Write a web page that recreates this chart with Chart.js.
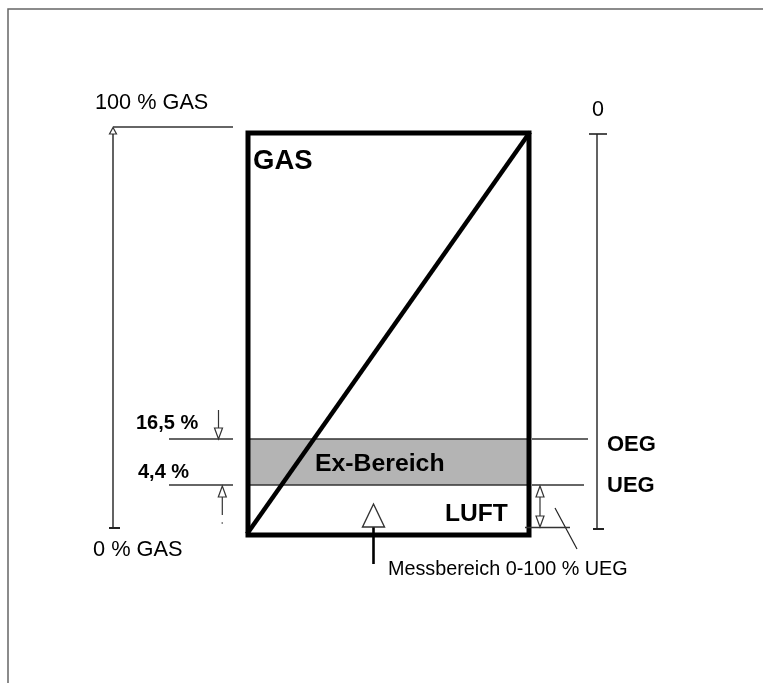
<!DOCTYPE html>
<html><head><meta charset="utf-8">
<script src="https://cdn.jsdelivr.net/npm/chart.js@4.4.1/dist/chart.umd.min.js"></script>
<style>html,body{margin:0;padding:0;background:#fff;}canvas{display:block;}</style>
</head><body>
<canvas id="c" width="763" height="683"></canvas>
<script>
// Diagram coordinate system: x to the right, y downward (drawing units)
const zoneLabels = ['GAS', 'Ex-Bereich', 'LUFT'];
const gasScaleLabels = ['100 % GAS', '0 % GAS'];
const limitPercents = ['16,5 %', '4,4 %'];
const limitNames = ['OEG', 'UEG'];
const uegScaleTopLabel = '0';
const rangeLabel = 'Messbereich 0-100 % UEG';

const vesselX = [248, 529];      // left / right wall of the vessel
const vesselY = [133, 535];      // top (100 % gas) / bottom (0 % gas)
const limitY = [439, 485];       // OEG (16,5 %) / UEG (4,4 %) levels
const gasScaleX = 113;           // left dimension line
const uegScaleX = 597;           // right dimension line
const uegScaleY = [134, 529];
const measureArrowX = 373.5;

const BLACK = '#000';
const DARK = '#333';

function line(pts, width, color, extra) {
  return Object.assign({
    data: pts.map(p => ({x: p[0], y: p[1]})),
    showLine: true, borderColor: color, borderWidth: width,
    pointRadius: 0, fill: false, borderCapStyle: 'butt', borderJoinStyle: 'miter', order: 0
  }, extra || {});
}
function tri(cx, tipY, baseY, half, width) {
  return line([[cx, baseY], [cx + half, baseY], [cx, tipY], [cx - half, baseY], [cx, baseY]], width, DARK,
    {backgroundColor: '#fff', fill: 'shape'});
}
const midX = (vesselX[0] + vesselX[1]) / 2;

const datasets = [
  // frame
  line([[8, 683], [8, 9], [763, 9]], 1.5, '#666'),
  // Ex-Bereich band
  line([[vesselX[0], limitY[0]], [vesselX[1], limitY[0]], [vesselX[1], limitY[1]], [vesselX[0], limitY[1]], [vesselX[0], limitY[0]]],
       0, '#b4b4b4', {backgroundColor: '#b4b4b4', fill: 'shape', order: 10}),
  line([[vesselX[0], limitY[0]], [vesselX[1], limitY[0]]], 1.6, DARK, {order: 5}),
  line([[vesselX[0], limitY[1]], [vesselX[1], limitY[1]]], 1.6, DARK, {order: 5}),
  // diagonal gas concentration
  line([[247, 534], [530, 132]], 4.5, BLACK, {order: 4}),
  // vessel
  line([[midX, vesselY[0]], [vesselX[1], vesselY[0]], [vesselX[1], vesselY[1]], [vesselX[0], vesselY[1]], [vesselX[0], vesselY[0]], [midX, vesselY[0]]],
       5, BLACK, {order: 3}),
  // left gas scale
  line([[gasScaleX, 134], [gasScaleX, 528]], 1.4, '#222'),
  tri(gasScaleX, 127.5, 134, 3.5, 1.2),
  line([[109, 528], [120, 528]], 2, '#222'),
  line([[gasScaleX, 127], [233, 127]], 1.5, DARK),
  // left limit lines
  line([[169, limitY[0]], [233, limitY[0]]], 1.5, DARK),
  line([[169, limitY[1]], [233, limitY[1]]], 1.5, DARK),
  // down arrow to OEG
  line([[218.5, 410], [218.5, 428]], 1.2, DARK),
  tri(218.5, 439, 428, 4, 1.2),
  // up arrow to UEG
  tri(222.3, 486, 497, 4, 1.2),
  line([[222.3, 497], [222.3, 515]], 1.2, DARK),
  line([[222.3, 522], [222.3, 524]], 1, '#888'),
  // right limit lines
  line([[532, limitY[0]], [588, limitY[0]]], 1.5, DARK),
  line([[532, limitY[1]], [584, limitY[1]]], 1.5, DARK),
  // right UEG scale
  line([[uegScaleX, uegScaleY[0]], [uegScaleX, uegScaleY[1]]], 1.4, '#222'),
  line([[589, uegScaleY[0]], [607, uegScaleY[0]]], 1.6, '#222'),
  line([[593, uegScaleY[1]], [604, uegScaleY[1]]], 2, '#222'),
  // LUFT double arrow
  line([[540, 497], [540, 516]], 1.2, DARK),
  tri(540, 486, 497, 4, 1.2),
  tri(540, 527, 516, 4, 1.2),
  line([[525, 527.5], [570, 527.5]], 1.4, DARK),
  // leader line
  line([[555, 508], [577, 549]], 1.2, '#222'),
  // measuring range arrow
  tri(measureArrowX, 504, 527, 11, 1.4),
  line([[measureArrowX, 527], [measureArrowX, 564]], 2.6, BLACK)
];

const FONT = '"Liberation Sans", Arial, Helvetica, sans-serif';
const texts = [
  {t: gasScaleLabels[0], x: 95, y: 108.5, f: 'normal 21.7px'},
  {t: gasScaleLabels[1], x: 93, y: 555.5, f: 'normal 21.8px'},
  {t: uegScaleTopLabel, x: 592, y: 116, f: 'normal 21.5px'},
  {t: zoneLabels[0], x: 253, y: 168.5, f: 'bold 27.5px'},
  {t: zoneLabels[1], x: 315, y: 471, f: 'bold 24.8px'},
  {t: zoneLabels[2], x: 445, y: 520.5, f: 'bold 24.6px'},
  {t: limitPercents[0], x: 136, y: 428.5, f: 'bold 20px'},
  {t: limitPercents[1], x: 138, y: 477.5, f: 'bold 20px'},
  {t: limitNames[0], x: 607, y: 451, f: 'bold 22px'},
  {t: limitNames[1], x: 607, y: 492, f: 'bold 22px'},
  {t: rangeLabel, x: 388, y: 575, f: 'normal 19.8px'}
];

const textPlugin = {
  id: 'diagramText',
  afterDatasetsDraw(chart) {
    const ctx = chart.ctx, xs = chart.scales.x, ys = chart.scales.y;
    ctx.save();
    ctx.fillStyle = '#000';
    ctx.textBaseline = 'alphabetic';
    ctx.textAlign = 'left';
    texts.forEach(o => {
      ctx.font = o.f + ' ' + FONT;
      ctx.fillText(o.t, xs.getPixelForValue(o.x), ys.getPixelForValue(o.y));
    });
    ctx.restore();
  }
};

new Chart(document.getElementById('c'), {
  type: 'scatter',
  data: {datasets},
  options: {
    responsive: false, animation: false, devicePixelRatio: 1, events: [],
    layout: {padding: 0},
    scales: {
      x: {type: 'linear', min: 0, max: 763, display: false},
      y: {type: 'linear', min: 0, max: 683, reverse: true, display: false}
    },
    plugins: {legend: {display: false}, tooltip: {enabled: false}},
    clip: false
  },
  plugins: [textPlugin]
});
</script>
</body></html>
